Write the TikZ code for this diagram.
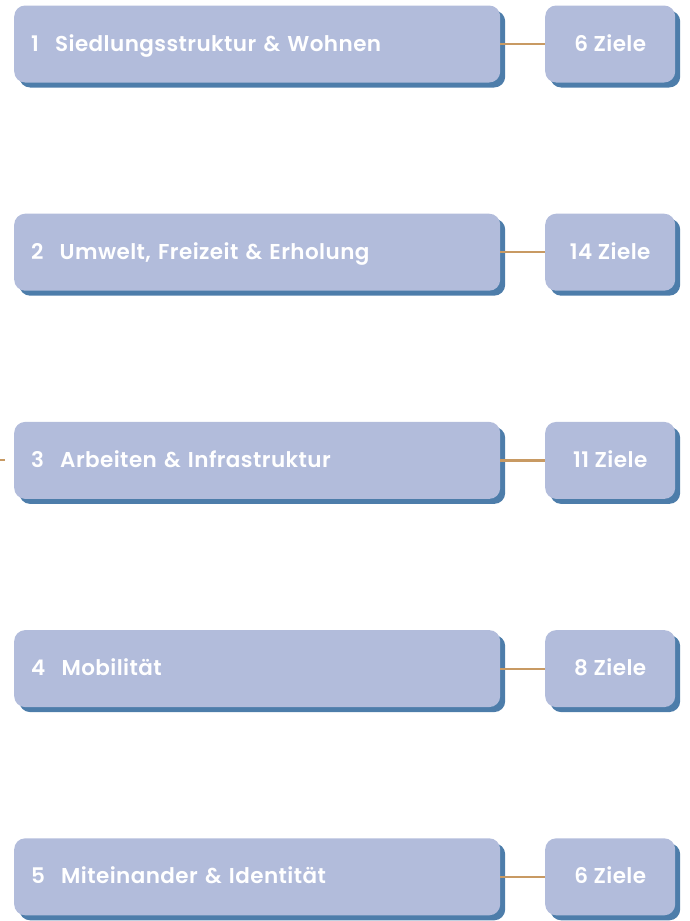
\documentclass[tikz,border=0pt]{standalone}
\usepackage{fontspec}
\setmainfont{Poppins}[UprightFont=* SemiBold, BoldFont=* Bold, LetterSpace=2]
\definecolor{boxfill}{HTML}{B2BCDB}
\definecolor{boxshadow}{HTML}{4D7DAA}
\definecolor{linkcol}{HTML}{C89A63}
\begin{document}
\begin{tikzpicture}[x=1pt,y=-1pt,
  topicbox/.style={fill=boxfill, rounded corners=11pt, minimum height=77pt, align=left, inner sep=0pt, anchor=west,
     text height=16pt, text depth=2pt,
     font=\fontsize{21.5}{24}\selectfont, text=white,
     preaction={fill=boxshadow, transform canvas={shift={(5pt,-5pt)}}}},
  goalbox/.style={fill=boxfill, rounded corners=11pt, minimum height=77pt, minimum width=130pt, inner sep=0pt, anchor=west,
     text height=16pt, text depth=2pt,
     font=\fontsize{21.5}{24}\selectfont, text=white,
     preaction={fill=boxshadow, transform canvas={shift={(5pt,-5pt)}}}},
  link/.style={draw=linkcol, line width=2.2pt}]
\useasboundingbox (0,0) rectangle (689,921);
\foreach \i/\t/\g [count=\k] in {1/Siedlungsstruktur \& Wohnen/6 Ziele,
  2/{Umwelt, Freizeit \& Erholung}/14 Ziele,
  3/Arbeiten \& Infrastruktur/11 Ziele,
  4/Mobilität/8 Ziele,
  5/Miteinander \& Identität/6 Ziele}{
  \pgfmathsetmacro{\yy}{44+(\k-1)*208.2}
  \node[topicbox, minimum width=486pt, text width=456pt] (t\k) at (14,\yy) {\hspace*{2pt}\i\hspace{0.75em}\t};
  \node[goalbox] (g\k) at (545,\yy) {\g};
  \draw[link] (t\k.east) -- (g\k.west);
}
\coordinate (lft) at (0,460);
\coordinate (lfte) at (5,460);
\draw[link] (lft) -- (lfte);
\end{tikzpicture}
\end{document}
